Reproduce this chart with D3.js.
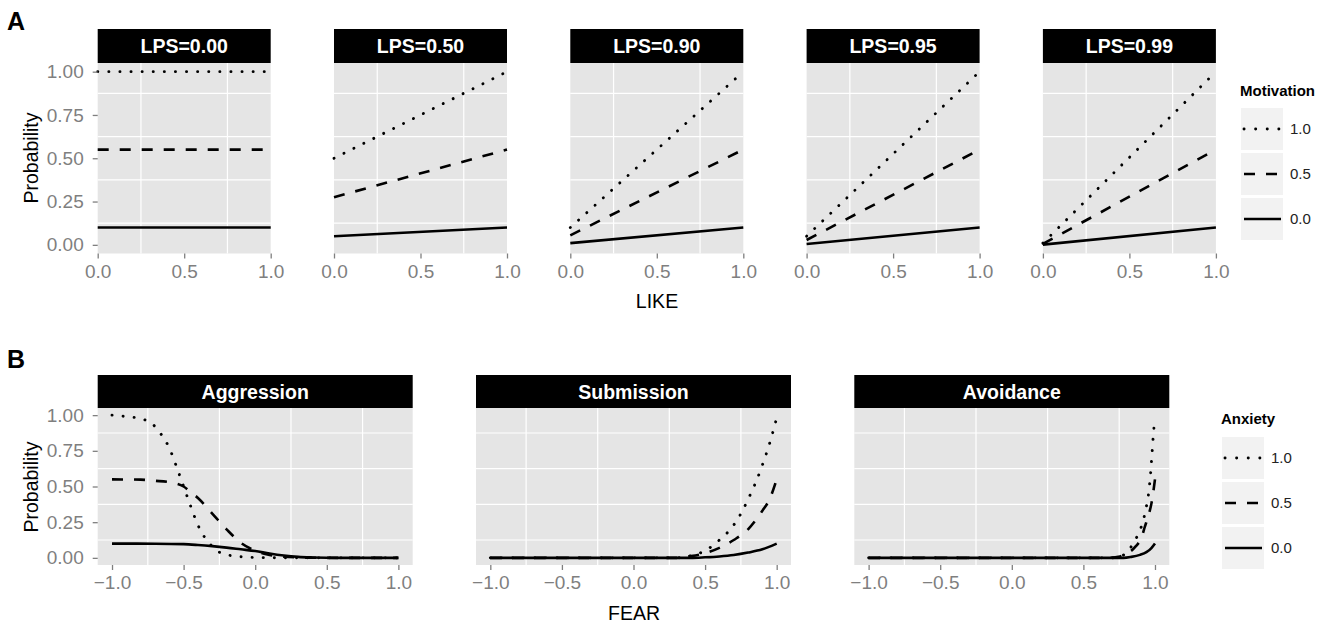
<!DOCTYPE html>
<html>
<head>
<meta charset="utf-8">
<script src="https://cdn.jsdelivr.net/npm/d3@7"></script>
<style>
body { margin: 0; background: #fff; }
svg { font-family: "Liberation Sans", Arial, Helvetica, sans-serif; }
.axis text { fill: #7f7f7f; font-size: 19px; }
.axis line { stroke: #7f7f7f; stroke-width: 1.3; }
.axis path { display: none; }
.strip text { fill: #fff; font-size: 19.5px; font-weight: bold; }
.label { fill: #000; font-size: 19.5px; }
.legend-title { font-size: 15px; font-weight: bold; }
.legend-text { font-size: 15px; fill: #222; }
.tag { font-size: 25px; font-weight: bold; }
</style>
</head>
<body>
<svg width="1324" height="628"></svg>
<script>
// **** Data ****
var lpsLabels = ['LPS=0.00', 'LPS=0.50', 'LPS=0.90', 'LPS=0.95', 'LPS=0.99'];
var likeEnds = [0, 1];
// probability at LIKE=0 and LIKE=1, one pair per LPS panel
var motivation10 = [[1.00, 1.00], [0.50, 1.00], [0.10, 1.00], [0.05, 1.00], [0.01, 1.00]];
var motivation05 = [[0.55, 0.55], [0.275, 0.55], [0.055, 0.55], [0.028, 0.55], [0.006, 0.55]];
var motivation00 = [[0.10, 0.10], [0.05, 0.10], [0.01, 0.10], [0.005, 0.10], [0.001, 0.10]];
var motivationLevels = ['1.0', '0.5', '0.0'];

var behaviourLabels = ['Aggression', 'Submission', 'Avoidance'];
var anxietyLevels = ['1.0', '0.5', '0.0'];
// [FEAR, probability]
var aggression10 = [[-1, 1.0], [-0.9, 0.99], [-0.8, 0.975], [-0.72, 0.94], [-0.66, 0.87], [-0.6, 0.77],
    [-0.55, 0.64], [-0.5, 0.5], [-0.45, 0.36], [-0.4, 0.23], [-0.35, 0.14], [-0.3, 0.08], [-0.25, 0.04],
    [-0.15, 0.013], [-0.05, 0.005], [0.1, 0.001], [0.3, 0], [1, 0]];
var aggression05 = [[-1, 0.55], [-0.8, 0.548], [-0.7, 0.54], [-0.6, 0.53], [-0.5, 0.50], [-0.45, 0.46],
    [-0.4, 0.42], [-0.3, 0.31], [-0.2, 0.2], [-0.1, 0.105], [0, 0.05], [0.1, 0.02], [0.2, 0.008],
    [0.3, 0.003], [0.5, 0], [1, 0]];
var aggression00 = [[-1, 0.1], [-0.7, 0.099], [-0.5, 0.096], [-0.4, 0.09], [-0.3, 0.082], [-0.2, 0.072],
    [-0.1, 0.06], [0, 0.048], [0.1, 0.03], [0.2, 0.016], [0.3, 0.007], [0.4, 0.003], [0.6, 0], [1, 0]];
var submission10 = [[-1, 0], [0.3, 0], [0.4, 0.015], [0.5, 0.05], [0.6, 0.125], [0.7, 0.23], [0.75, 0.31],
    [0.8, 0.41], [0.85, 0.52], [0.9, 0.65], [0.95, 0.8], [1, 0.98]];
var submission05 = [[-1, 0], [0.3, 0], [0.4, 0.012], [0.5, 0.033], [0.6, 0.07], [0.7, 0.125], [0.8, 0.2],
    [0.85, 0.26], [0.9, 0.33], [0.95, 0.41], [1, 0.55]];
var submission00 = [[-1, 0], [0.4, 0], [0.5, 0.004], [0.6, 0.01], [0.7, 0.02], [0.8, 0.037], [0.9, 0.06],
    [1, 0.1]];
var avoidance10 = [[-1, 0], [0.7, 0], [0.78, 0.02], [0.835, 0.08], [0.875, 0.15], [0.905, 0.22],
    [0.925, 0.29], [0.94, 0.36], [0.955, 0.45], [0.97, 0.6], [0.98, 0.74], [0.99, 0.88], [1, 0.98]];
var avoidance05 = [[-1, 0], [0.66, 0], [0.755, 0.01], [0.81, 0.033], [0.865, 0.08], [0.905, 0.14],
    [0.93, 0.22], [0.955, 0.3], [0.975, 0.38], [0.985, 0.44], [1, 0.55]];
var avoidance00 = [[-1, 0], [0.78, 0], [0.835, 0.007], [0.895, 0.021], [0.94, 0.04], [0.975, 0.068],
    [1, 0.1]];

var probTicks = [0, 0.25, 0.5, 0.75, 1];
var probMinor = [0.125, 0.375, 0.625, 0.875];
var likeTicks = [0, 0.5, 1];
var likeMinor = [0.25, 0.75];
var fearTicks = [-1, -0.5, 0, 0.5, 1];
var fearMinor = [-0.75, -0.25, 0.25, 0.75];

// line type per level: dotted, dashed, solid
var dashes = ['0.1,11', '11,11', null];

var svg = d3.select('svg');

// **** Helpers ****

function drawPanel(left, width, top, bottom, stripTop, title, x, y, xTicks, xMinor, series, showY) {
    var g = svg.append('g');
    g.append('rect')
        .attr('x', left).attr('y', top)
        .attr('width', width).attr('height', bottom - top)
        .attr('fill', '#e5e5e5');

    g.selectAll('.hgrid').data(probMinor).enter().append('line')
        .attr('x1', left).attr('x2', left + width)
        .attr('y1', function(d) { return y(d); })
        .attr('y2', function(d) { return y(d); })
        .attr('stroke', '#fff').attr('stroke-width', 1.2);
    g.selectAll('.vgrid').data(xMinor).enter().append('line')
        .attr('y1', top).attr('y2', bottom)
        .attr('x1', function(d) { return x(d); })
        .attr('x2', function(d) { return x(d); })
        .attr('stroke', '#fff').attr('stroke-width', 1.2);

    var strip = g.append('g').attr('class', 'strip');
    strip.append('rect')
        .attr('x', left).attr('y', stripTop)
        .attr('width', width).attr('height', top - stripTop)
        .attr('fill', '#000');
    strip.append('text')
        .attr('x', left + width / 2)
        .attr('y', (stripTop + top) / 2 + 7)
        .attr('text-anchor', 'middle')
        .text(title);

    var line = d3.line()
        .x(function(d) { return x(d[0]); })
        .y(function(d) { return y(d[1]); })
        .curve(d3.curveMonotoneX);

    series.forEach(function(pts, k) {
        g.append('path')
            .attr('d', line(pts))
            .attr('fill', 'none')
            .attr('stroke', '#000')
            .attr('stroke-width', k == 0 ? 2.9 : 2.6)
            .attr('stroke-linecap', k == 0 ? 'round' : 'butt')
            .attr('stroke-dasharray', dashes[k]);
    });

    g.append('g').attr('class', 'axis')
        .attr('transform', 'translate(0,' + bottom + ')')
        .call(d3.axisBottom(x).tickValues(xTicks).tickSize(5).tickPadding(6)
            .tickFormat(d3.format('.1f')));

    if (showY) {
        g.append('g').attr('class', 'axis')
            .attr('transform', 'translate(' + left + ',0)')
            .call(d3.axisLeft(y).tickValues(probTicks).tickSize(5).tickPadding(9)
                .tickFormat(d3.format('.2f')));
    }
}

function drawLegend(left, titleY, keyTop, title, levels) {
    var g = svg.append('g');
    g.append('text').attr('class', 'legend-title')
        .attr('x', left - 1).attr('y', titleY).text(title);
    levels.forEach(function(lev, k) {
        var ky = keyTop + k * 45;
        g.append('rect')
            .attr('x', left).attr('y', ky)
            .attr('width', 42).attr('height', 42)
            .attr('fill', '#f2f2f2');
        g.append('line')
            .attr('x1', left + 3).attr('x2', left + 40)
            .attr('y1', ky + 21).attr('y2', ky + 21)
            .attr('stroke', '#000')
            .attr('stroke-width', k == 0 ? 2.9 : 2.6)
            .attr('stroke-linecap', k == 0 ? 'round' : 'butt')
            .attr('stroke-dasharray', k == 0 ? '0.1,11.5' : dashes[k]);
        g.append('text').attr('class', 'legend-text')
            .attr('x', left + 49).attr('y', ky + 26).text(lev);
    });
}

// **** Row A ****

var yTop = d3.scaleLinear().domain([-0.05, 1.05]).range([253.5, 63]);

lpsLabels.forEach(function(lab, i) {
    var left = 97.7 + i * 236.3;
    var x = d3.scaleLinear().domain([0, 1]).range([left, left + 173]);
    var series = [motivation10[i], motivation05[i], motivation00[i]].map(function(pair) {
        return likeEnds.map(function(lx, k) { return [lx, pair[k]]; });
    });
    drawPanel(left, 173, 63, 253.5, 29, lab, x, yTop, likeTicks, likeMinor, series, i == 0);
});

drawLegend(1241, 96, 108, 'Motivation', motivationLevels);

svg.append('text').attr('class', 'label')
    .attr('text-anchor', 'middle')
    .attr('transform', 'translate(657,308)')
    .text('LIKE');
svg.append('text').attr('class', 'label')
    .attr('text-anchor', 'middle')
    .attr('transform', 'translate(38,158) rotate(-90)')
    .text('Probability');
svg.append('text').attr('class', 'tag')
    .attr('x', 7).attr('y', 30).text('A');

// **** Row B ****

var yBot = d3.scaleLinear().domain([-0.05, 1.05]).range([565, 408]);
var rowB = [
    [aggression10, aggression05, aggression00],
    [submission10, submission05, submission00],
    [avoidance10, avoidance05, avoidance00]
];

behaviourLabels.forEach(function(lab, i) {
    var left = 97.7 + i * 378.3;
    var x = d3.scaleLinear().domain([-1.1, 1.1]).range([left, left + 315]);
    drawPanel(left, 315, 408, 565, 375, lab, x, yBot, fearTicks, fearMinor, rowB[i], i == 0);
});

drawLegend(1222, 424, 437, 'Anxiety', anxietyLevels);

svg.append('text').attr('class', 'label')
    .attr('text-anchor', 'middle')
    .attr('transform', 'translate(634,620)')
    .text('FEAR');
svg.append('text').attr('class', 'label')
    .attr('text-anchor', 'middle')
    .attr('transform', 'translate(38,487) rotate(-90)')
    .text('Probability');
svg.append('text').attr('class', 'tag')
    .attr('x', 7).attr('y', 368).text('B');
</script>
</body>
</html>
